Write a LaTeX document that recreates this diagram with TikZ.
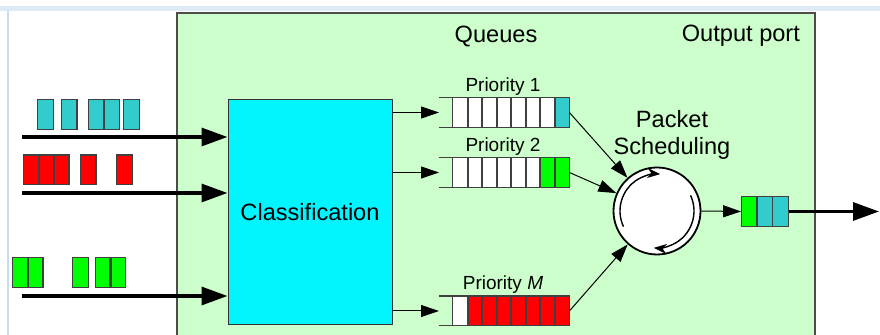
\documentclass[tikz,border=0pt]{standalone}
\usepackage{fontspec}
\setmainfont{Liberation Sans}
\usetikzlibrary{arrows.meta,positioning}
\definecolor{portgreen}{RGB}{204,255,204}
\definecolor{pktcyan}{RGB}{51,204,204}
\definecolor{clscyan}{RGB}{0,245,255}
\definecolor{edgeblue}{RGB}{200,222,238}

\begin{document}
\begin{tikzpicture}[
    x=0.5pt, y=-0.5pt,
    pkt/.style={inner sep=0pt, minimum width=7.5pt, minimum height=14.5pt},
    cell/.style={pkt, minimum width=7.25pt},
    pktline/.style={draw=black!75, line width=0.6pt},
    bigarr/.style={line width=1.6pt, -{Triangle[length=13pt, width=9pt]}},
    smallarr/.style={line width=0.5pt, -{Triangle[length=9pt, width=6pt]}},
    turnarr/.style={line width=0.7pt, -{Stealth[length=6.5pt, width=5pt]}},
    lbl/.style={font=\fontsize{11.8}{13.5}\selectfont},
    plbl/.style={font=\fontsize{9.5}{11}\selectfont}
    ]
\useasboundingbox (0,0) rectangle (880,335);
\clip (0,0) rectangle (880,335);
% screen edges
\fill[edgeblue!60] (0,6) rectangle (880,11);
\draw[edgeblue, line width=1pt] (8,11) -- (8,335);
% output port
\draw[black!70, fill=portgreen, line width=0.6pt] (177,13) rectangle (815,345);
\node[lbl] (queues) at (496,36) {Queues};
\node[lbl, anchor=east] (port) at (807,36) {Output port};

\node[draw=black!80, fill=clscyan, line width=0.5pt, minimum width=82pt, minimum height=112.5pt, lbl] (cls) at (310,212.5) {Classification};

\node[circle, draw, line width=0.9pt, fill=white, minimum size=43.5pt, inner sep=0pt] (sched) at (657,211) {};
\node[lbl, align=center] (schedlbl) at (672,134.5) {Packet\\Scheduling};
\draw[turnarr] ([shift={(205:18.5pt)}]sched.center) arc[start angle=205, end angle=85, radius=18.5pt];
\draw[turnarr] ([shift={(25:18.5pt)}]sched.center) arc[start angle=25, end angle=-95, radius=18.5pt];

% incoming flows
\foreach \x [count=\i] in {45.5,69,96.5,111.5,131.5}
  \node[pkt, fill=pktcyan] (c\i) at (\x,114.5) {};
\foreach \x [count=\i] in {31.5,46.5,61,88,124.5}
  \node[pkt, fill=red] (r\i) at (\x,170) {};
\foreach \x [count=\i] in {20.5,35,80.5,103,117.5}
  \node[pkt, fill=green] (g\i) at (\x,272.5) {};
\foreach \n in {c,r,g}
  \foreach \i in {1,...,5}
    \draw[pktline] (\n\i.north west) rectangle (\n\i.south east);
\foreach \y [count=\i] in {137,193,296}{
  \coordinate (in\i) at (22,\y);
  \draw[bigarr] (in\i) -- (in\i -| cls.west);
}

% queues
\foreach \q/\y/\nw/\col/\txt in {1/112.5/7/pktcyan/Priority 1, 2/172.5/6/green/Priority 2, M/311/1/red/Priority \textit{M}}{
  \foreach \i in {1,...,8}{
    \ifnum\i>\nw \def\fc{\col}\else\def\fc{white}\fi
    \node[cell, fill=\fc] (q\q-\i) at ({453+14.5*(\i-0.5)},\y) {};
  }
  \foreach \i in {1,...,8}
    \draw[pktline] (q\q-\i.north west) rectangle (q\q-\i.south east);
  \coordinate (q\q-in) at (439,\y);
  \draw[pktline] (q\q-in |- q\q-1.north) -- (q\q-1.north west)
    (q\q-in |- q\q-1.south) -- (q\q-1.south west);
  \node[plbl] (q\q-lbl) at (503,\y-26) {\txt};
  \draw[smallarr] (cls.east |- q\q-in) -- (q\q-in);
  \draw[smallarr] (q\q-8.east) -- (sched);
}

% output
\node[pkt, fill=green] (o1) at (749,211.5) {};
\node[pkt, fill=pktcyan, right=0pt of o1] (o2) {};
\node[pkt, fill=pktcyan, right=0pt of o2] (o3) {};
\foreach \i in {1,2,3}
  \draw[pktline] (o\i.north west) rectangle (o\i.south east);
\draw[smallarr] (sched.east) -- (o1.west);
\coordinate (outend) at (879,211.5);
\draw[bigarr] (o3.east) -- (outend);
\end{tikzpicture}
\end{document}
